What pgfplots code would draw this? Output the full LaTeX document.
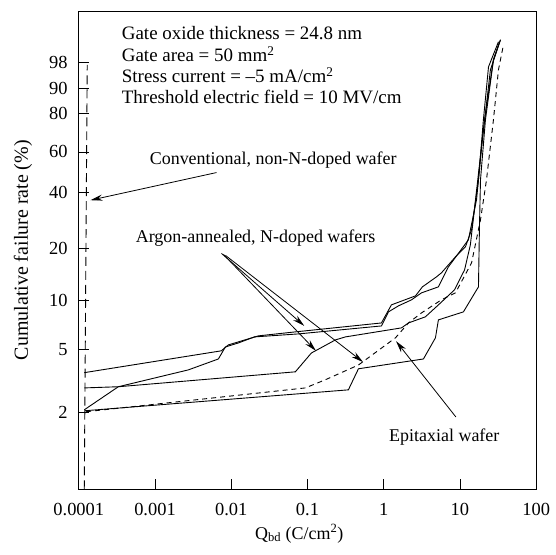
\documentclass[border=0pt]{standalone}
\usepackage{fontspec}
\setmainfont{Liberation Serif}
\usepackage{pgfplots}
\pgfplotsset{compat=1.18}
\usetikzlibrary{arrows.meta}
\begin{document}
\fontsize{18}{21}\selectfont
\begin{tikzpicture}
\begin{axis}[
  scale only axis, width=458.5pt, height=479.5pt,
  at={(0pt,0pt)}, anchor=south west,
  xmode=log, xmin=1e-4, xmax=100,
  ymin=0.653, ymax=99.925,
  y coord trafo/.code={\pgfmathparse{ln(-ln(1-#1/100))}},
  y coord inv trafo/.code={\pgfmathparse{100*(1-exp(-exp(#1)))}},
  xtick={0.0001,0.001,0.01,0.1,1,10,100},
  xticklabels={0.0001,0.001,0.01,0.1,1,10,100},
  ytick={2,5,10,20,40,60,80,90,96.67},
  yticklabels={2,5,10,20,40,60,80,90,98},
  xminorticks=false, yminorticks=false,
  tick align=inside, major tick length=10pt, tick pos=left,
  axis line style={line width=0.9pt},
  every tick/.style={black, line width=0.8pt},
  tick label style={font=\fontsize{18.5}{21}\selectfont},
  xticklabel style={yshift=-8pt},
  yticklabel style={xshift=-5pt},
  label style={font=\fontsize{18}{21}\selectfont},
  xlabel={Q\textsubscript{bd} (C/cm\textsuperscript{2})},
  ylabel={Cumulative failure rate (\%)},
  xlabel style={at={(axis description cs:0.482,-0.093)},anchor=center},
  ylabel style={font=\fontsize{20}{23}\selectfont, at={(axis description cs:-0.122,0.5)},anchor=center},
  clip=true,
]
% Conventional, non-N-doped wafer
\addplot[black, line width=0.9pt, dash pattern=on 9pt off 5pt] table {
x y
1.18e-4 0.66
1.29e-4 96.19
};
% Argon-annealed, N-doped wafers
\addplot[black, line width=0.9pt] table {
x y
1.18e-4 3.59
7.41e-3 4.90
9.17e-3 5.33
0.0227 6.06
0.0693 6.41
0.933 7.27
1.262 9.36
2.61 10.60
3.22 12.0
4.92 13.75
5.71 14.51
8.73 17.97
11.8 20.48
14.2 25.46
17.5 45.65
20.3 76.87
23.7 95.82
32.0 98.97
};
\addplot[black, line width=0.9pt] table {
x y
1.18e-4 2.88
3.30e-4 2.93
2.73e-3 3.73
6.78e-3 4.36
8.37e-3 5.18
0.0124 5.48
0.0201 5.97
0.0760 6.23
0.933 6.97
1.153 8.49
1.56 9.23
2.31 10.03
3.13 11.05
5.22 12.0
7.06 15.73
12.9 22.42
16.5 36.57
19.7 66.49
25.1 95.21
34.0 99.10
};
\addplot[black, line width=0.9pt] table {
x y
1.18e-4 2.10
3.30e-4 2.93
0.0693 3.63
0.1125 4.75
0.232 5.72
0.314 5.97
1.71 6.78
2.11 7.27
3.52 7.92
5.22 9.36
8.47 11.51
11.5 15.11
13.7 21.02
16.0 36.57
21.0 76.87
27.5 97.03
33.0 98.97
};
\addplot[black, line width=0.9pt] table {
x y
1.18e-4 2.07
0.344 2.80
0.466 3.79
3.32 4.36
4.77 5.89
5.22 7.59
11.1 8.49
17.5 12.0
18.0 25.46
18.6 45.65
21.6 76.87
27.5 97.03
34.0 99.10
};
% Epitaxial wafer
\addplot[black, line width=0.9pt, dash pattern=on 5pt off 4pt] table {
x y
1.25e-4 2.04
0.0938 2.88
0.172 3.24
0.466 4.00
1.425 5.89
2.11 7.27
3.13 8.37
5.71 10.03
8.73 11.05
14.2 16.59
18.6 28.82
22.3 45.65
27.5 76.87
32.0 95.21
37.2 98.74
};
\end{axis}
% annotations
\begin{scope}[every node/.style={anchor=base west, inner sep=0, font=\fontsize{19}{22}\selectfont}]
\node at (43pt,450.5pt) {Gate oxide thickness = 24.8 nm};
\node at (43pt,428.5pt) {Gate area = 50 mm\textsuperscript{2}};
\node at (43pt,407.5pt) {Stress current = --5 mA/cm\textsuperscript{2}};
\node at (43pt,386.5pt) {Threshold electric field = 10 MV/cm};
\end{scope}
\node[anchor=base west, inner sep=0] at (71pt,325.5pt) {Conventional, non-N-doped wafer};
\node[anchor=base west, inner sep=0] at (57pt,247.5pt) {Argon-annealed, N-doped wafers};
\node[anchor=base west, inner sep=0] at (311pt,47.5pt) {Epitaxial wafer};
\begin{scope}[line width=0.8pt, -{Stealth[length=12pt,width=6pt]}]
\draw (138pt,317.5pt) -- (11.7pt,289.8pt);
\draw (143pt,236.5pt) -- (226pt,163.8pt);
\draw (145pt,235.5pt) -- (237.7pt,138.8pt);
\draw (147pt,234.5pt) -- (285pt,127.5pt);
\draw (378pt,72.5pt) -- (318pt,148.5pt);
\end{scope}
\path (-79pt,-65.5pt) rectangle (470pt,490.5pt);
\end{tikzpicture}
\end{document}
